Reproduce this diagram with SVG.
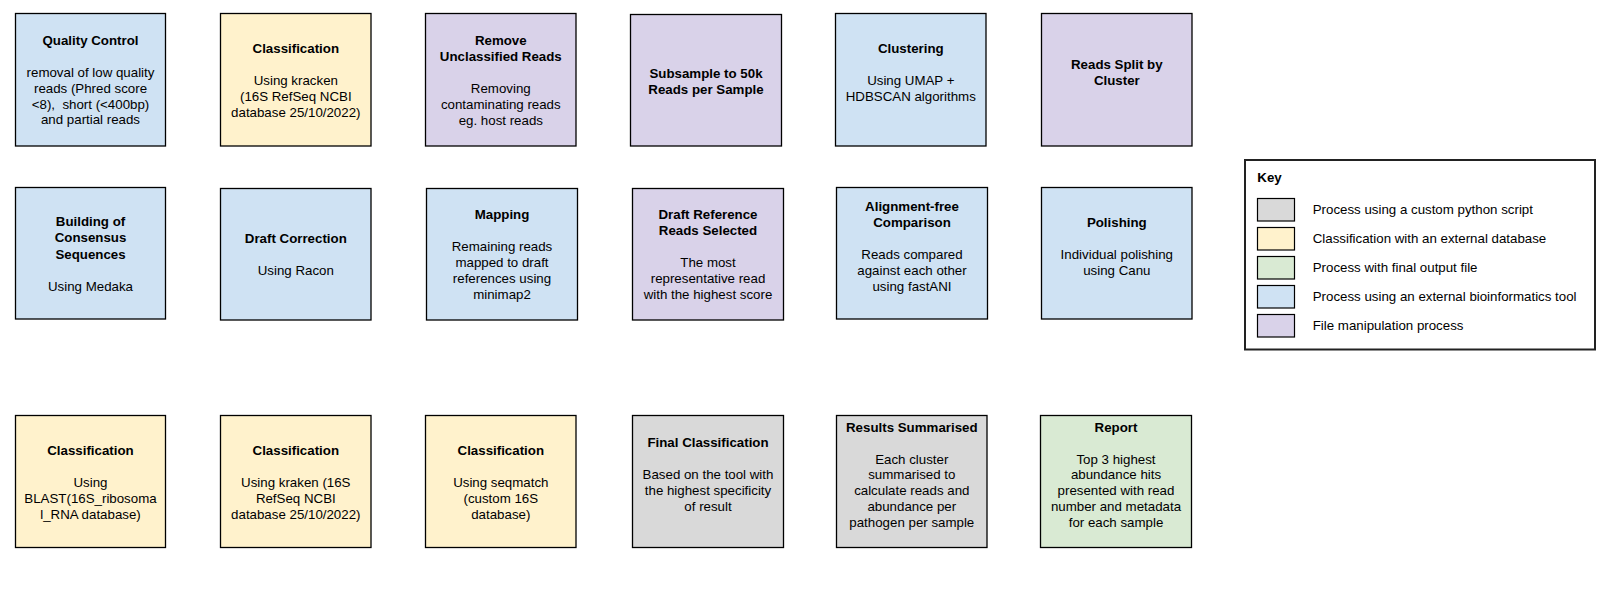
<svg xmlns="http://www.w3.org/2000/svg" width="1613" height="592" viewBox="0 0 1613 592">
<style>
.box{stroke:#000;stroke-width:1.3}
.blue{fill:#cfe2f3}.yellow{fill:#fff2cc}.purple{fill:#d9d2e9}.gray{fill:#d9d9d9}.green{fill:#d9ead3}
text{font-family:"Liberation Sans",Arial,sans-serif;font-size:13.3px;fill:#000}
.t{text-anchor:middle}
.b{font-weight:bold}
.keybox{fill:#fff;stroke:#222;stroke-width:2}
.sw{stroke:#000;stroke-width:1.2}
</style>
<rect width="1613" height="592" fill="#fff"/>
<g id="connectors"/>

<g id="quality-control">
<rect class="box blue" x="15.5" y="13.5" width="150" height="132.5"/>
<text class="t b" x="90.5" y="45">Quality Control</text>
<text class="t" x="90.5" y="76.7">removal of low quality</text>
<text class="t" x="90.5" y="92.7">reads (Phred score</text>
<text class="t" x="90.5" y="108.5" xml:space="preserve">&lt;8),  short (&lt;400bp)</text>
<text class="t" x="90.5" y="124.3">and partial reads</text>
</g>

<g id="classification-kracken">
<rect class="box yellow" x="220.5" y="13.5" width="150.5" height="132.5"/>
<text class="t b" x="295.8" y="53">Classification</text>
<text class="t" x="295.8" y="85">Using kracken</text>
<text class="t" x="295.8" y="101">(16S RefSeq NCBI</text>
<text class="t" x="295.8" y="117">database 25/10/2022)</text>
</g>

<g id="remove-unclassified">
<rect class="box purple" x="425.5" y="13.5" width="150.5" height="132.5"/>
<text class="t b" x="500.8" y="45">Remove</text>
<text class="t b" x="500.8" y="61">Unclassified Reads</text>
<text class="t" x="500.8" y="93">Removing</text>
<text class="t" x="500.8" y="109">contaminating reads</text>
<text class="t" x="500.8" y="125">eg. host reads</text>
</g>

<g id="subsample">
<rect class="box purple" x="630.5" y="14.5" width="151" height="131.5"/>
<text class="t b" x="706" y="77.7">Subsample to 50k</text>
<text class="t b" x="706" y="93.7">Reads per Sample</text>
</g>

<g id="clustering">
<rect class="box blue" x="835.5" y="13.5" width="150.5" height="132.5"/>
<text class="t b" x="910.8" y="53">Clustering</text>
<text class="t" x="910.8" y="85">Using UMAP +</text>
<text class="t" x="910.8" y="101">HDBSCAN algorithms</text>
</g>

<g id="reads-split">
<rect class="box purple" x="1041.5" y="13.5" width="150.5" height="132.5"/>
<text class="t b" x="1116.8" y="69">Reads Split by</text>
<text class="t b" x="1116.8" y="85">Cluster</text>
</g>

<g id="building-consensus">
<rect class="box blue" x="15.5" y="187.5" width="150" height="131.5"/>
<text class="t b" x="90.5" y="226.3">Building of</text>
<text class="t b" x="90.5" y="242.3">Consensus</text>
<text class="t b" x="90.5" y="258.5">Sequences</text>
<text class="t" x="90.5" y="290.7">Using Medaka</text>
</g>

<g id="draft-correction">
<rect class="box blue" x="220.5" y="188.5" width="150.5" height="131.5"/>
<text class="t b" x="295.8" y="243">Draft Correction</text>
<text class="t" x="295.8" y="275">Using Racon</text>
</g>

<g id="mapping">
<rect class="box blue" x="426.5" y="188.5" width="151" height="131.5"/>
<text class="t b" x="502" y="219">Mapping</text>
<text class="t" x="502" y="251.3">Remaining reads</text>
<text class="t" x="502" y="267.3">mapped to draft</text>
<text class="t" x="502" y="283.3">references using</text>
<text class="t" x="502" y="299.3">minimap2</text>
</g>

<g id="draft-reference">
<rect class="box purple" x="632.5" y="188.5" width="151" height="131.5"/>
<text class="t b" x="708" y="219">Draft Reference</text>
<text class="t b" x="708" y="235">Reads Selected</text>
<text class="t" x="708" y="267">The most</text>
<text class="t" x="708" y="283">representative read</text>
<text class="t" x="708" y="299">with the highest score</text>
</g>

<g id="alignment-free">
<rect class="box blue" x="836.5" y="187.5" width="151" height="131.5"/>
<text class="t b" x="912" y="211">Alignment-free</text>
<text class="t b" x="912" y="227">Comparison</text>
<text class="t" x="912" y="259">Reads compared</text>
<text class="t" x="912" y="275">against each other</text>
<text class="t" x="912" y="291">using fastANI</text>
</g>

<g id="polishing">
<rect class="box blue" x="1041.5" y="187.5" width="150.5" height="131.5"/>
<text class="t b" x="1116.8" y="226.7">Polishing</text>
<text class="t" x="1116.8" y="258.7">Individual polishing</text>
<text class="t" x="1116.8" y="274.7">using Canu</text>
</g>

<g id="classification-blast">
<rect class="box yellow" x="15.5" y="415.5" width="150" height="132"/>
<text class="t b" x="90.5" y="455.3">Classification</text>
<text class="t" x="90.5" y="487.3">Using</text>
<text class="t" x="90.5" y="503.3">BLAST(16S_ribosoma</text>
<text class="t" x="90.5" y="519.3">l_RNA database)</text>
</g>

<g id="classification-kraken">
<rect class="box yellow" x="220.5" y="415.5" width="150.5" height="132"/>
<text class="t b" x="295.8" y="455.3">Classification</text>
<text class="t" x="295.8" y="487.3">Using kraken (16S</text>
<text class="t" x="295.8" y="503.3">RefSeq NCBI</text>
<text class="t" x="295.8" y="519.3">database 25/10/2022)</text>
</g>

<g id="classification-seqmatch">
<rect class="box yellow" x="425.5" y="415.5" width="150.5" height="132"/>
<text class="t b" x="500.8" y="455.3">Classification</text>
<text class="t" x="500.8" y="487.3">Using seqmatch</text>
<text class="t" x="500.8" y="503.3">(custom 16S</text>
<text class="t" x="500.8" y="519.3">database)</text>
</g>

<g id="final-classification">
<rect class="box gray" x="632.5" y="415.5" width="151" height="132"/>
<text class="t b" x="708" y="447">Final Classification</text>
<text class="t" x="708" y="478.5">Based on the tool with</text>
<text class="t" x="708" y="494.5">the highest specificity</text>
<text class="t" x="708" y="510.5">of result</text>
</g>

<g id="results-summarised">
<rect class="box gray" x="836.5" y="415.5" width="150.5" height="132"/>
<text class="t b" x="911.8" y="432">Results Summarised</text>
<text class="t" x="911.8" y="463.7">Each cluster</text>
<text class="t" x="911.8" y="479.3">summarised to</text>
<text class="t" x="911.8" y="495">calculate reads and</text>
<text class="t" x="911.8" y="511">abundance per</text>
<text class="t" x="911.8" y="526.7">pathogen per sample</text>
</g>

<g id="report">
<rect class="box green" x="1040.5" y="415.5" width="151" height="132"/>
<text class="t b" x="1116" y="432">Report</text>
<text class="t" x="1116" y="463.7">Top 3 highest</text>
<text class="t" x="1116" y="479.3">abundance hits</text>
<text class="t" x="1116" y="495">presented with read</text>
<text class="t" x="1116" y="511">number and metadata</text>
<text class="t" x="1116" y="526.7">for each sample</text>
</g>

<g id="key">
<rect class="keybox" x="1245" y="160" width="350" height="189.5"/>
<text class="b" x="1257.3" y="182">Key</text>
<rect class="sw gray" x="1257.5" y="198.5" width="37" height="22.5"/>
<text x="1312.7" y="214.3">Process using a custom python script</text>
<rect class="sw yellow" x="1257.5" y="227.5" width="37" height="22.5"/>
<text x="1312.7" y="243.3">Classification with an external database</text>
<rect class="sw green" x="1257.5" y="256.5" width="37" height="22.5"/>
<text x="1312.7" y="272.3">Process with final output file</text>
<rect class="sw blue" x="1257.5" y="285.5" width="37" height="22.5"/>
<text x="1312.7" y="301.4">Process using an external bioinformatics tool</text>
<rect class="sw purple" x="1257.5" y="314.5" width="37" height="22.5"/>
<text x="1312.7" y="330.4">File manipulation process</text>
</g>
</svg>
